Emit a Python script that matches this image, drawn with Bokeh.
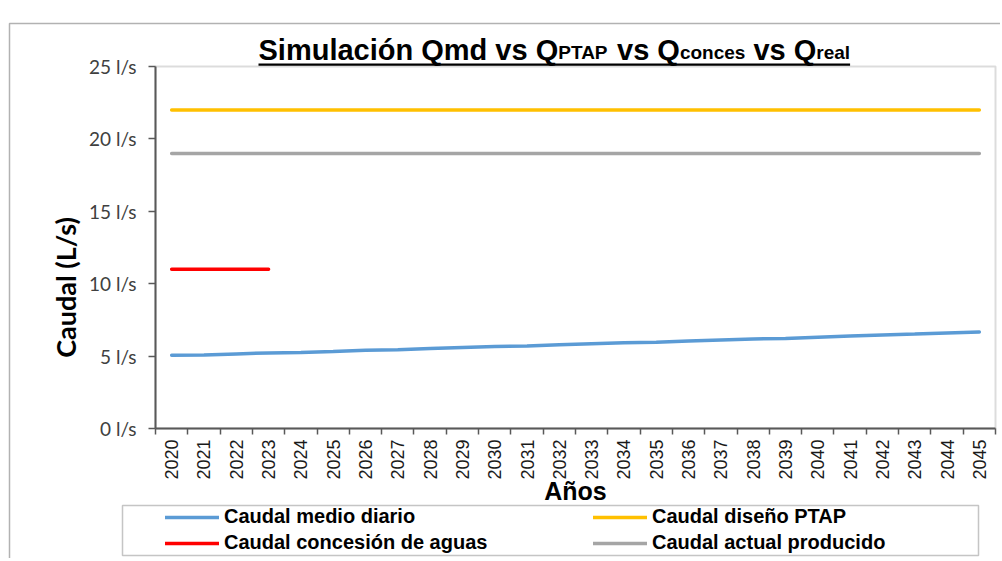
import math
from bokeh.plotting import figure
from bokeh.models import (Range1d, FixedTicker, CustomJSTickFormatter, PrintfTickFormatter,
                          Legend, LegendItem, Label, BoxAnnotation)
from bokeh.embed import file_html
from bokeh.resources import INLINE

# ---------------- data ----------------
years = [2020, 2021, 2022, 2023, 2024, 2025, 2026, 2027, 2028, 2029, 2030, 2031, 2032,
         2033, 2034, 2035, 2036, 2037, 2038, 2039, 2040, 2041, 2042, 2043, 2044, 2045]
caudal_medio_diario = [5.06, 5.08, 5.15, 5.22, 5.25, 5.32, 5.40, 5.44, 5.52, 5.60, 5.66, 5.70, 5.78,
                       5.86, 5.92, 5.96, 6.04, 6.12, 6.18, 6.22, 6.30, 6.38, 6.46, 6.52, 6.60, 6.66]
caudal_diseno_ptap = [22, 22, 22, 22, 22, 22, 22, 22, 22, 22, 22, 22, 22,
                      22, 22, 22, 22, 22, 22, 22, 22, 22, 22, 22, 22, 22]
caudal_actual_producido = [19, 19, 19, 19, 19, 19, 19, 19, 19, 19, 19, 19, 19,
                           19, 19, 19, 19, 19, 19, 19, 19, 19, 19, 19, 19, 19]
concesion_years = [2020, 2021, 2022, 2023]
caudal_concesion = [11, 11, 11, 11]
y_ticks = [0, 5, 10, 15, 20, 25]
year_labels = [str(y) for y in years]

series_labels = ["Caudal medio diario", "Caudal concesión de aguas",
                 "Caudal diseño PTAP", "Caudal actual producido"]
x_title = "Años"
y_title = "Caudal (L/s)"
# title: (text, size class, leading space)
title_pieces = [("Simulación Qmd vs Q", "big", False), ("PTAP", "small", False),
                ("vs Q", "big", True), ("conces", "small", False),
                ("vs Q", "big", True), ("real", "small", False)]

# ---------------- layout (canvas pixels) ----------------
W, H = 1000, 558
PX_LEFT, PX_RIGHT, PX_TOP, PX_BOTTOM = 155, 995, 66, 428
n = len(years)
y_max = y_ticks[-1]
ux = (PX_RIGHT - PX_LEFT) / n
uy = (PX_BOTTOM - PX_TOP) / y_max
BASE_SHIFT = 0.345   # label anchor -> alphabetic baseline offset (fraction of font size)

def sy(page_y):
    return H - page_y

pos = {y: i + 0.5 for i, y in enumerate(years)}
x_all = [pos[y] for y in years]
x_con = [pos[y] for y in concesion_years]

p = figure(width=W, height=H, output_backend="svg", toolbar_location=None, tools="",
           x_range=Range1d(-PX_LEFT / ux, n + (W - PX_RIGHT) / ux),
           y_range=Range1d(-(H - PX_BOTTOM) / uy, y_max + PX_TOP / uy),
           min_border=0, min_border_left=0, min_border_right=0,
           min_border_top=0, min_border_bottom=0)
p.background_fill_color = "white"
p.border_fill_color = "white"
p.xgrid.visible = False
p.ygrid.visible = False
p.outline_line_color = None

# plot-area frame (grey box)
area_box = BoxAnnotation(left=0, right=n, bottom=0, top=y_max, fill_alpha=0,
                         line_color="#8c8c8c", line_width=2, level="underlay")
p.add_layout(area_box)

# x axis
xa = p.xaxis[0]
xa.fixed_location = 0
xa.bounds = (0, n)
xa.ticker = FixedTicker(ticks=x_all, minor_ticks=list(range(n + 1)))
xa.formatter = CustomJSTickFormatter(args=dict(labels=year_labels), code="""
const i = Math.floor(tick);
return (i >= 0 && i < labels.length) ? labels[i] : '';
""")
xa.major_tick_line_color = None
xa.major_tick_out = 0
xa.major_tick_in = 0
xa.minor_tick_out = 6
xa.minor_tick_in = 0
xa.minor_tick_line_color = "#595959"
xa.minor_tick_line_width = 1.5
xa.axis_line_color = "#595959"
xa.axis_line_width = 2
xa.major_label_orientation = math.pi / 2
xa.major_label_standoff = 5
xa.major_label_text_font = "Liberation Sans"
xa.major_label_text_font_size = "18px"
xa.major_label_text_color = "#1a1a1a"

# y axis
ya = p.yaxis[0]
ya.fixed_location = 0
ya.bounds = (0, y_max)
ya.ticker = FixedTicker(ticks=y_ticks, minor_ticks=[])
ya.formatter = PrintfTickFormatter(format="%d l/s")
ya.major_tick_out = 7
ya.major_tick_in = 0
ya.major_tick_line_color = "#595959"
ya.major_tick_line_width = 1.5
ya.minor_tick_line_color = None
ya.axis_line_color = "#595959"
ya.axis_line_width = 2
ya.major_label_standoff = 12
ya.major_label_text_font = "Lato"
ya.major_label_text_font_size = "19px"
ya.major_label_text_color = "#404040"

# axis titles
p.add_layout(Label(x=575, y=sy(499 - BASE_SHIFT * 25), x_units="screen", y_units="screen",
                   text=x_title, text_font="Liberation Sans", text_font_style="bold",
                   text_font_size="25px", text_color="black",
                   text_align="center", text_baseline="alphabetic"))
p.add_layout(Label(x=74 - BASE_SHIFT * 27, y=sy(287), x_units="screen", y_units="screen",
                   text=y_title, angle=math.pi / 2, text_font="Lato", text_font_style="bold",
                   text_font_size="27px", text_color="black",
                   text_align="center", text_baseline="alphabetic"))

# series
r_blue = p.line(x_all, caudal_medio_diario, line_color="#5B9BD5", line_width=3.5, line_cap="round")
r_yel = p.line(x_all, caudal_diseno_ptap, line_color="#FFC000", line_width=3.5, line_cap="round")
r_gry = p.line(x_all, caudal_actual_producido, line_color="#A5A5A5", line_width=3.5, line_cap="round")
r_red = p.line(x_con, caudal_concesion, line_color="#FF0000", line_width=3.5, line_cap="round")

# legend: two columns inside one frame box
def make_legend(items, loc):
    lg = Legend(items=items, location=loc)
    lg.border_line_color = None
    lg.background_fill_alpha = 0
    lg.padding = 0
    lg.margin = 0
    lg.spacing = 3
    lg.glyph_width = 54
    lg.glyph_height = 22
    lg.label_height = 22
    lg.label_standoff = 5
    lg.label_text_font = "Liberation Sans"
    lg.label_text_font_style = "bold"
    lg.label_text_font_size = "20px"
    lg.label_text_color = "black"
    return lg

leg_a = make_legend([LegendItem(label=series_labels[0], renderers=[r_blue]),
                     LegendItem(label=series_labels[1], renderers=[r_red])], (165, sy(554)))
leg_b = make_legend([LegendItem(label=series_labels[2], renderers=[r_yel]),
                     LegendItem(label=series_labels[3], renderers=[r_gry])], (593, sy(554)))
p.add_layout(leg_a)
p.add_layout(leg_b)

def screen_box(left, right, top, bottom, **kw):
    return BoxAnnotation(left=left, right=right, top=top, bottom=bottom,
                         left_units="screen", right_units="screen",
                         top_units="screen", bottom_units="screen", **kw)

p.add_layout(screen_box(122, 978, sy(505), sy(555), fill_alpha=0,
                        line_color="#404040", line_width=1.5))
# outer chart border (left and top edges visible)
p.add_layout(screen_box(9, W + 50, sy(23), -50, fill_alpha=0,
                        line_color="black", line_width=1.5))

# title with subscripts
ARIAL_BOLD = {" ": 278, "S": 667, "i": 278, "m": 889, "u": 611, "l": 278, "a": 556, "c": 556,
              "ó": 611, "n": 611, "Q": 778, "d": 611, "v": 556, "s": 556, "P": 667, "T": 611,
              "A": 722, "o": 611, "e": 556, "r": 389}
sizes = {"big": 29, "small": 19}

def text_w(s, size):
    return sum(ARIAL_BOLD.get(ch, 556) for ch in s) / 1000 * size

TITLE_BASELINE = 60
cx = 258.0
title_start = cx
for txt, kind, lead in title_pieces:
    fs = sizes[kind]
    if lead:
        cx += text_w(" ", fs)
    base = TITLE_BASELINE - (1.5 if kind == "small" else 0)
    p.add_layout(Label(x=cx, y=sy(base - BASE_SHIFT * fs), x_units="screen", y_units="screen",
                       text=txt, text_font="Liberation Sans", text_font_style="bold",
                       text_font_size=f"{fs}px", text_color="black",
                       text_align="left", text_baseline="alphabetic"))
    cx += text_w(txt, fs)
p.add_layout(screen_box(title_start, cx, sy(63), sy(65.2), fill_color="black",
                        fill_alpha=1, line_color=None))

open("out.html", "w").write(file_html(p, INLINE))
